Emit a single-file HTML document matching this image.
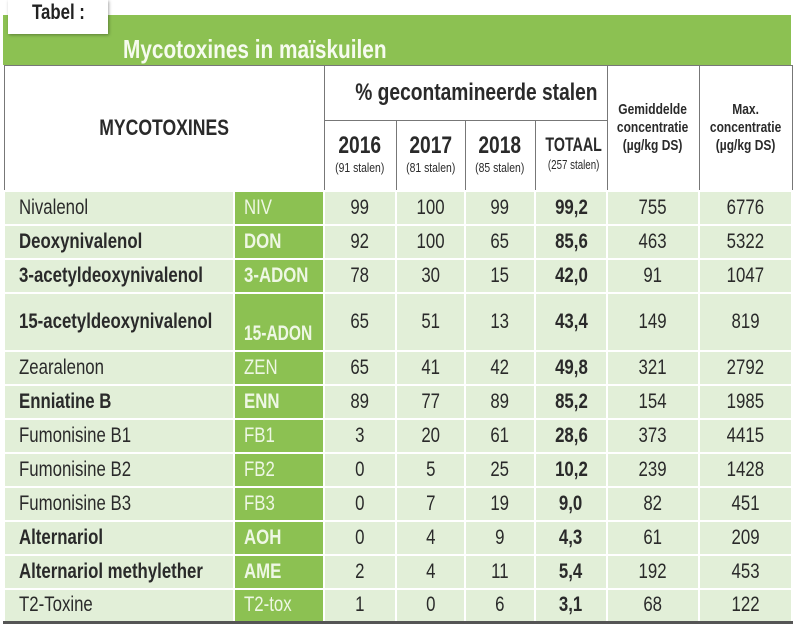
<!DOCTYPE html>
<html><head><meta charset="utf-8">
<style>
body{margin:0;width:800px;height:637px;background:#fff;overflow:hidden;font-family:"Liberation Sans",sans-serif;color:#2a2a2a;position:relative}
.c{display:inline-block;transform:scaleX(.8);transform-origin:center;white-space:nowrap}
.l .c,td.n .c,td.a .c{transform-origin:left center}
.tab{position:absolute;left:8px;top:0;width:100px;height:34px;background:#fff;box-shadow:1px 1px 3px rgba(0,0,0,.35);z-index:2;font-weight:bold;font-size:21px;padding-left:24px;box-sizing:border-box;line-height:26px;color:#222}
.bar{position:absolute;left:3px;top:15px;width:788px;height:50px;background:#8cc152}
.bar > span{position:absolute;left:120px;top:19px;color:#f6fbef;font-weight:bold;font-size:26px}
table{position:absolute;left:3px;top:65px;width:788px;border-collapse:collapse;table-layout:fixed}
th{border:1.5px solid #777;background:#fff;font-weight:bold;text-align:center;padding:0;white-space:nowrap}
td{border:2px solid #fff;background:#e2efd8;text-align:center;font-size:21px;padding:0;height:30px;white-space:nowrap}
td.n{text-align:left;padding-left:14px}
td.a{background:#8cc152;color:#eef7e4;text-align:left;padding-left:9px}
.b{font-weight:bold}
tr.last td{border-bottom:3px solid #555}
small{font-size:13px;font-weight:normal;display:block}
</style></head><body>
<div class="tab l"><span class="c">Tabel :</span></div>
<div class="bar"><span><span class="c" style="transform-origin:left center">Mycotoxines in maïskuilen</span></span></div>
<table>
<colgroup><col style="width:230px"><col style="width:90px"><col style="width:72px"><col style="width:69px"><col style="width:70px"><col style="width:72px"><col style="width:92px"><col style="width:93px"></colgroup>
<tr style="height:55px"><th colspan="2" rowspan="2" style="font-size:22px"><span class="c">MYCOTOXINES</span></th><th colspan="4" style="font-size:24px"><span class="c">% gecontamineerde stalen</span></th><th rowspan="2" style="font-size:15px;line-height:18px"><span class="c">Gemiddelde<br>concentratie<br>(µg/kg DS)</span></th><th rowspan="2" style="font-size:15px;line-height:18px"><span class="c">Max.<br>concentratie<br>(µg/kg DS)</span></th></tr>
<tr style="height:70px"><th style="font-size:24px"><span class="c">2016<small>(91 stalen)</small></span></th><th style="font-size:24px"><span class="c">2017<small>(81 stalen)</small></span></th><th style="font-size:24px"><span class="c">2018<small>(85 stalen)</small></span></th><th style="font-size:19px"><span class="c" style="transform:scaleX(.75)">TOTAAL<small>(257 stalen)</small></span></th></tr>
<tbody id="tb"></tbody>
</table>
<script>
const names=["Nivalenol","Deoxynivalenol","3-acetyldeoxynivalenol","15-acetyldeoxynivalenol","Zearalenon","Enniatine B","Fumonisine B1","Fumonisine B2","Fumonisine B3","Alternariol","Alternariol methylether","T2-Toxine"];
const abbr=["NIV","DON","3-ADON","15-ADON","ZEN","ENN","FB1","FB2","FB3","AOH","AME","T2-tox"];
const bold=[0,1,1,1,0,1,0,0,0,1,1,0];
const v2016=["99","92","78","65","65","89","3","0","0","0","2","1"];
const v2017=["100","100","30","51","41","77","20","5","7","4","4","0"];
const v2018=["99","65","15","13","42","89","61","25","19","9","11","6"];
const total=["99,2","85,6","42,0","43,4","49,8","85,2","28,6","10,2","9,0","4,3","5,4","3,1"];
const mean=["755","463","91","149","321","154","373","239","82","61","192","68"];
const maxc=["6776","5322","1047","819","2792","1985","4415","1428","451","209","453","122"];
const tb=document.getElementById('tb');
names.forEach((n,i)=>{
  const tr=document.createElement('tr');
  
  
  tr.style.height=(i===3?58:34)+'px';
  if(i===names.length-1)tr.className='last';
  const cells=[[n,'n'+(bold[i]?' b':'')],[abbr[i],'a'+(bold[i]?' b':'')],[v2016[i],''],[v2017[i],''],[v2018[i],''],[total[i],'b'],[mean[i],''],[maxc[i],'']];
  cells.forEach((c,j)=>{
    const td=document.createElement('td');
    
    
    td.className=c[1];
    const s=document.createElement('span');
    s.className='c';s.textContent=c[0];
    td.appendChild(s);
    if(i===3&&j===1){td.style.verticalAlign='bottom';td.style.paddingBottom='4px';s.style.transform='scaleX(.74)';}
    tr.appendChild(td);
  });
  tb.appendChild(tr);
});
</script>
</body></html>
